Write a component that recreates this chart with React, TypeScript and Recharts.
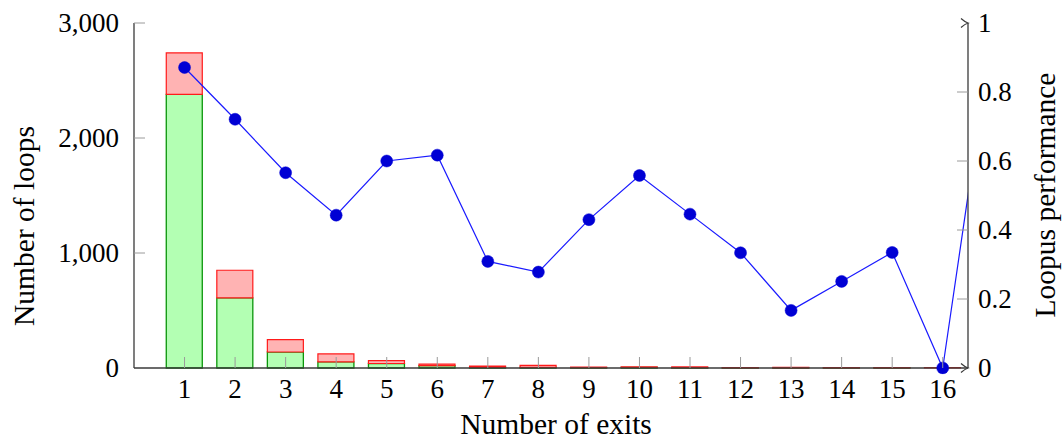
import React from "react";
import {
  ComposedChart,
  Bar,
  Line,
  XAxis,
  YAxis,
  ReferenceDot,
} from "recharts";

// Number of exits per loop (17 only feeds the line, it lies past the x range)
const exits = [1, 2, 3, 4, 5, 6, 7, 8, 9, 10, 11, 12, 13, 14, 15, 16, 17];
// Loops that Loopus handles (green part of each bar)
const handled = [2380, 610, 139, 54, 39, 21, 5, 6, 3, 5, 4, 1, 1, 1, 1, 0, 1];
// Loops that Loopus does not handle (red part stacked on top)
const unhandled = [360, 240, 108, 68, 26, 13, 11, 16, 4, 4, 5, 2, 5, 3, 2, 3, 0];
// Loopus performance per exit count (right axis)
const performance = [
  0.871, 0.721, 0.566, 0.443, 0.6, 0.617, 0.309, 0.278, 0.43, 0.558, 0.446,
  0.334, 0.167, 0.251, 0.335, 0, 1,
];

const xTicks = [1, 2, 3, 4, 5, 6, 7, 8, 9, 10, 11, 12, 13, 14, 15, 16];
const leftTicks = [0, 1000, 2000, 3000];
const rightTicks = [0, 0.2, 0.4, 0.6, 0.8, 1];

const rows = exits.map((e, i) => ({
  exits: e,
  handled: handled[i],
  unhandled: unhandled[i],
  performance: performance[i],
}));

const FONT = "'Liberation Serif', 'Times New Roman', serif";
const FS = 27;
const TITLE_FS = 29.5;
const TICK = "#9a9a9a";
const AXIS = "#3a3a3a";

const fmtThousands = (v: number) =>
  v.toString().replace(/\B(?=(\d{3})+(?!\d))/g, ",");

const BottomTick = (props: any) => {
  const { x, y, payload } = props;
  return (
    <g>
      <line x1={x} y1={y} x2={x} y2={y - 11} stroke={TICK} strokeWidth={1} />
      <text x={x} y={y + 30} textAnchor="middle" fontFamily={FONT} fontSize={FS} fill="#000">
        {payload.value}
      </text>
    </g>
  );
};

const TopTick = (props: any) => {
  const { x, y } = props;
  return <line x1={x} y1={y} x2={x} y2={y + 10} stroke={TICK} strokeWidth={1} />;
};

const LeftTick = (props: any) => {
  const { x, y, payload } = props;
  return (
    <g>
      {payload.value !== 0 && (
        <line x1={x} y1={y} x2={x + 11} y2={y} stroke={TICK} strokeWidth={1} />
      )}
      <text x={x - 15} y={y + 9} textAnchor="end" fontFamily={FONT} fontSize={FS} fill="#000">
        {fmtThousands(payload.value)}
      </text>
    </g>
  );
};

const RightTick = (props: any) => {
  const { x, y, payload } = props;
  return (
    <g>
      {payload.value !== 0 && payload.value !== 1 && (
        <line x1={x} y1={y} x2={x - 11} y2={y} stroke={TICK} strokeWidth={1} />
      )}
      <text x={x + 10} y={y + 9} textAnchor="start" fontFamily={FONT} fontSize={FS} fill="#000">
        {String(payload.value)}
      </text>
    </g>
  );
};

const Arrow = (props: any) => {
  const { cx, cy } = props;
  return (
    <path
      d={`M${cx - 7},${cy - 4.5} Q${cx - 3},${cy - 1} ${cx},${cy} Q${cx - 3},${cy + 1} ${cx - 7},${cy + 4.5}`}
      fill="none"
      stroke={AXIS}
      strokeWidth={1.2}
    />
  );
};

export default function App() {
  return (
    <div
      style={{
        position: "absolute",
        left: 0,
        top: 0,
        width: 1062,
        height: 444,
        background: "#fff",
      }}
    >
      <ComposedChart
        width={1062}
        height={444}
        data={rows}
        margin={{ top: 23, right: 0, bottom: 0, left: 0 }}
      >
        <XAxis
          dataKey="exits"
          type="number"
          domain={[0, 16.5]}
          allowDataOverflow
          ticks={xTicks}
          interval={0}
          height={76}
          tickSize={0}
          tickMargin={0}
          tickLine={false}
          axisLine={{ stroke: AXIS, strokeWidth: 1.3 }}
          tick={<BottomTick />}
        />
        <XAxis
          xAxisId="top"
          orientation="top"
          type="number"
          domain={[0, 16.5]}
          allowDataOverflow
          ticks={xTicks}
          interval={0}
          height={0}
          tickSize={0}
          tickMargin={0}
          tickLine={false}
          axisLine={{ stroke: AXIS, strokeWidth: 1.3 }}
          tick={<TopTick />}
        />
        <YAxis
          yAxisId="left"
          orientation="left"
          type="number"
          domain={[0, 3000]}
          ticks={leftTicks}
          interval={0}
          width={134}
          tickSize={0}
          tickMargin={0}
          tickLine={false}
          axisLine={{ stroke: AXIS, strokeWidth: 1.3 }}
          tick={<LeftTick />}
        />
        <YAxis
          yAxisId="right"
          orientation="right"
          type="number"
          domain={[0, 1]}
          ticks={rightTicks}
          interval={0}
          width={94}
          tickSize={0}
          tickMargin={0}
          tickLine={false}
          axisLine={{ stroke: AXIS, strokeWidth: 1.3 }}
          tick={<RightTick />}
        />
        <Bar
          yAxisId="left"
          dataKey="handled"
          stackId="loops"
          barSize={36}
          fill="#b3ffb3"
          stroke="#0a960a"
          strokeWidth={1.3}
          isAnimationActive={false}
        />
        <Bar
          yAxisId="left"
          dataKey="unhandled"
          stackId="loops"
          barSize={36}
          fill="#ffb3b3"
          stroke="#ff1a1a"
          strokeWidth={1.2}
          isAnimationActive={false}
        />
        <Line
          yAxisId="right"
          dataKey="performance"
          type="linear"
          stroke="#1a1aff"
          strokeWidth={1.2}
          dot={{ r: 6, fill: "#0000d4", stroke: "#0000d4", strokeWidth: 0.5, clipDot: false }}
          activeDot={false}
          isAnimationActive={false}
        />
        <ReferenceDot
          yAxisId="left"
          x={16.5}
          y={0}
          ifOverflow="visible"
          shape={<Arrow />}
        />
        <ReferenceDot
          yAxisId="left"
          x={16.5}
          y={3000}
          ifOverflow="visible"
          shape={<Arrow />}
        />
      </ComposedChart>
      <svg
        width={1062}
        height={444}
        style={{ position: "absolute", left: 0, top: 0, pointerEvents: "none" }}
      >
        <text x={556} y={434} textAnchor="middle" fontFamily={FONT} fontSize={TITLE_FS} fill="#000">
          Number of exits
        </text>
        <text
          transform="translate(34,226) rotate(-90)"
          textAnchor="middle"
          fontFamily={FONT}
          fontSize={TITLE_FS}
          fill="#000"
        >
          Number of loops
        </text>
        <text
          transform="translate(1055,195) rotate(-90)"
          textAnchor="middle"
          fontFamily={FONT}
          fontSize={TITLE_FS}
          fill="#000"
        >
          Loopus performance
        </text>
      </svg>
    </div>
  );
}
